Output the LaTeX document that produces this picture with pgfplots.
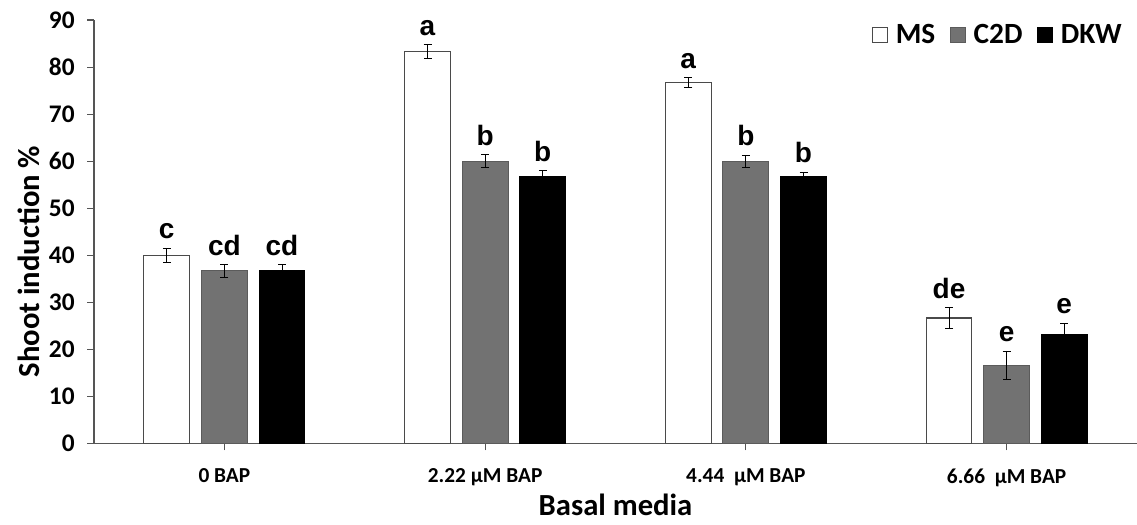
\documentclass[border=0pt]{standalone}
\usepackage{fontspec}
\setmainfont{Carlito}
\newfontfamily\arialb{Liberation Sans}
\usepackage{pgfplots}
\usepackage{pgfplotstable}
\pgfplotsset{compat=1.18}

\definecolor{barGray}{HTML}{727272}
\definecolor{edgeGray}{HTML}{4A4A4A}
\definecolor{axGray}{HTML}{555555}

% x, value, error, letter
\pgfplotstableread{
x y e l
0 40.0 1.5 c
1 83.3 1.4 a
2 76.7 1.0 a
3 26.7 2.2 de
}\tabMS
\pgfplotstableread{
x y e l
0 36.7 1.3 cd
1 60.0 1.4 b
2 60.0 1.3 b
3 16.7 3.0 e
}\tabCTD
\pgfplotstableread{
x y e l
0 36.7 1.3 cd
1 56.7 1.3 b
2 56.7 1.0 b
3 23.3 2.3 e
}\tabDKW

\begin{document}
\begin{tikzpicture}
\begin{axis}[
    name=ax,
    scale only axis,
    width=782.25pt, height=317.8pt,
    ybar, bar width=0.176,
    xmin=-0.5, xmax=3.5,
    ymin=0, ymax=90,
    ytick={0,10,...,90},
    xtick={0,1,2,3},
    xticklabels={0 BAP, 2.22 µM BAP, 4.44\ \ µM BAP, 6.66\ \ µM BAP},
    axis x line*=bottom, axis y line*=left,
    axis line style={-, axGray, line width=0.8pt},
    tick align=outside,
    major tick length=5pt,
    tick style={axGray, line width=0.8pt},
    /pgf/number format/assume math mode=true,
    yticklabel style={font=\bfseries\fontsize{19}{21}\selectfont, xshift=-6pt},
    xticklabel style={font=\bfseries\fontsize{16}{18}\selectfont, yshift=-10pt},
    ylabel={Shoot induction \%},
    xlabel={Basal media},
    ylabel style={at={(axis description cs:-0.062,0.43)}, anchor=center, font=\bfseries\fontsize{23}{26}\selectfont},
    xlabel style={at={(axis description cs:0.5,-0.145)}, anchor=center, font=\bfseries\fontsize{23}{26}\selectfont},
    error bars/y dir=both,
    error bars/y explicit,
    error bars/error bar style={black, line width=0.7pt},
    error bars/error mark options={rotate=90, black, mark size=3pt, line width=0.7pt},
    point meta=explicit symbolic,
    nodes near coords,
    visualization depends on={\thisrow{e} \as \myerr},
    nodes near coords style={font=\arialb\bfseries\fontsize{21}{23}\selectfont, anchor=south, inner sep=2pt, yshift=\myerr*3.531pt+4.5pt, black},
    legend columns=3,
    legend style={draw=none, fill=none, at={(axis description cs:0.992,0.965)}, anchor=east,
        font=\bfseries\fontsize{22}{25}\selectfont,
        /tikz/every odd column/.append style={column sep=4pt},
        /tikz/every even column/.append style={column sep=9pt}},
    legend image code/.code={\draw[#1, line width=0.8pt] (0pt,-5.5pt) rectangle (11pt,5.5pt);},
]
\addplot[fill=white, draw=edgeGray, line width=0.8pt, bar shift=-0.221]
    table[x=x, y=y, y error=e, meta=l] {\tabMS};
\addplot[fill=barGray, draw=barGray!80!black, line width=0.8pt, bar shift=0]
    table[x=x, y=y, y error=e, meta=l] {\tabCTD};
\addplot[fill=black, draw=black, line width=0.8pt, bar shift=0.221]
    table[x=x, y=y, y error=e, meta=l] {\tabDKW};
\legend{MS, C2D, DKW}
\end{axis}
\pgfresetboundingbox
\path[use as bounding box] ([xshift=-70.5pt, yshift=-60.2pt]ax.south west) rectangle ([yshift=15pt]ax.north east);
\end{tikzpicture}
\end{document}
